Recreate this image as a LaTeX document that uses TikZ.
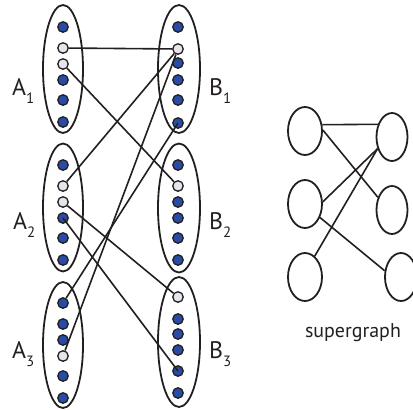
\documentclass[tikz,border=0pt]{standalone}
\usepackage{fontspec}
\setmainfont{PT Sans}
\usetikzlibrary{shapes.geometric}
\definecolor{dotblue}{RGB}{40,76,166}
\definecolor{dotlight}{RGB}{232,228,238}
\definecolor{ink}{RGB}{35,31,32}
\begin{document}
\begin{tikzpicture}[x=1bp,y=-1bp,
  grp/.style={draw=ink,ellipse,line width=1.8bp,inner sep=0pt,minimum width=40bp,minimum height=128bp},
  sg/.style={draw=ink,ellipse,line width=1.8bp,inner sep=0pt,minimum width=34bp,minimum height=48bp},
  dotb/.style={circle,draw=ink,fill=dotblue,line width=1.3bp,inner sep=0pt,minimum size=10.5bp},
  dotl/.style={dotb,fill=dotlight},
  conn/.style={draw=ink,line width=1.6bp},
  lab/.style={anchor=base west,inner sep=0pt,text=ink,font=\fontsize{24}{24}\selectfont}]
\useasboundingbox (0,0) rectangle (413,410);

% group ellipses
\node[grp] (A1) at (63,69) {};
\node[grp] (A2) at (63,207.5) {};
\node[grp,minimum height=126bp] (A3) at (63,345) {};
\node[grp,minimum width=42bp] (B1) at (179,69) {};
\node[grp,minimum width=42bp,minimum height=129bp] (B2) at (179,208) {};
\node[grp,minimum width=42bp,minimum height=130bp] (B3) at (179,342) {};

% dots
\foreach \i/\y/\s in {1/27/dotb,2/48/dotl,3/64/dotl,4/80/dotb,5/100/dotb,6/122/dotb}
  \node[\s] (a1-\i) at (63,\y) {};
\foreach \i/\y/\s in {1/27/dotb,2/48/dotl,3/64/dotl,4/80/dotb,5/100/dotb,6/122/dotb}
  \node[\s] (a2-\i) at (63,\y+138) {};
\foreach \i/\y/\s in {1/27/dotb,2/48/dotb,3/64/dotb,4/80/dotl,5/100/dotb,6/122/dotb}
  \node[\s] (a3-\i) at (63,\y+276) {};
\foreach \i/\y/\s in {1/27/dotb,2/49/dotl,3/63/dotb,4/80/dotb,5/100/dotb,6/123/dotb}
  \node[\s] (b1-\i) at (178,\y) {};
\foreach \i/\y/\s in {1/27/dotb,2/48/dotl,3/64/dotb,4/80/dotb,5/100/dotb,6/122/dotb}
  \node[\s] (b2-\i) at (178,\y+138) {};
\foreach \i/\y/\s in {1/27/dotl,2/49/dotb,3/64/dotb,4/80/dotb,5/101/dotb,6/123/dotb}
  \node[\s] (b3-\i) at (178,\y+270) {};

% connectors
\draw[conn] (a1-2) -- (b1-2);
\draw[conn] (a1-3) -- (b2-2);
\draw[conn] (b1-2) -- (a2-2);
\draw[conn] (b1-2) -- (a3-4);
\draw[conn] (b1-6.center) -- (a3-1);
\draw[conn] (a2-3) -- (b3-1);
\draw[conn] (a2-4.center) -- (b3-5.center);

% labels
\node[lab] (la1) at (12,95) {A\raisebox{-8bp}{\fontsize{15}{15}\selectfont 1}};
\node[lab] (la2) at (13,229) {A\raisebox{-8bp}{\fontsize{15}{15}\selectfont 2}};
\node[lab] (la3) at (12,358) {A\raisebox{-8bp}{\fontsize{15}{15}\selectfont 3}};
\node[lab] (lb1) at (209,95) {B\raisebox{-8bp}{\fontsize{15}{15}\selectfont 1}};
\node[lab] (lb2) at (209,229) {B\raisebox{-8bp}{\fontsize{15}{15}\selectfont 2}};
\node[lab] (lb3) at (209,358) {B\raisebox{-8bp}{\fontsize{15}{15}\selectfont 3}};

% supergraph
\node[sg] (L1) at (305,131) {};
\node[sg] (L2) at (305,204) {};
\node[sg] (L3) at (305,277) {};
\node[sg,minimum width=31bp] (R1) at (392,137) {};
\node[sg,minimum width=31bp] (R2) at (392,210) {};
\node[sg,minimum width=32bp] (R3) at (401,277) {};
\draw[conn] (L1.20) -- (R1.138);
\draw[conn] (L1.3) -- (R2.138);
\draw[conn] (L2.7) -- (R1.-141);
\draw[conn] (L3.65) -- (R1.-141);
\draw[conn] (L2.-42) -- (R3.159);
\node[anchor=base,inner sep=0pt,text=ink,font=\fontsize{20}{20}\selectfont] (sgl) at (353,337) {supergraph};
\end{tikzpicture}
\end{document}
